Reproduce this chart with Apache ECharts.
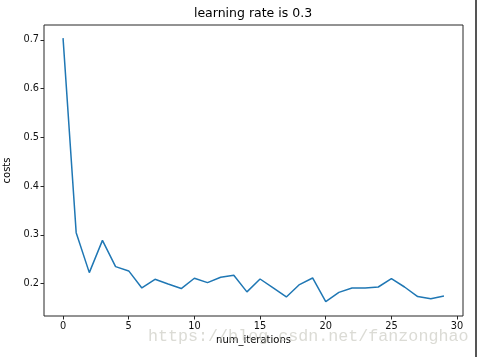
<!DOCTYPE html>
<html>
<head>
<meta charset="utf-8">
<script src="https://cdn.jsdelivr.net/npm/echarts@6/dist/echarts.min.js"></script>
<style>html,body{margin:0;padding:0;background:#fff;}#c{width:479px;height:357px;}</style>
</head>
<body>
<div id="c"></div>
<script>
const titleText = 'learning rate is 0.3';
const xName = 'num_iterations';
const yName = 'costs';
const watermark = 'https://blog.csdn.net/fanzonghao';
const iterations = [0,1,2,3,4,5,6,7,8,9,10,11,12,13,14,15,16,17,18,19,20,21,22,23,24,25,26,27,28,29];
const costs = [0.7035,0.3045,0.2225,0.2887,0.2348,0.226,0.191,0.2088,0.199,0.1898,0.211,0.202,0.213,0.217,0.183,0.2094,0.191,0.1726,0.198,0.2115,0.163,0.182,0.191,0.191,0.193,0.210,0.193,0.1734,0.169,0.1746];
const xTicks = [0,5,10,15,20,25,30];
const yTicks = [0.2,0.3,0.4,0.5,0.6,0.7];

const font = 'DejaVu Sans';
const chart = echarts.init(document.getElementById('c'), null, {renderer:'canvas'});
chart.setOption({
  animation:false,
  backgroundColor:'#fff',
  grid:{left:44,right:16,top:25,bottom:41,show:true,borderColor:'#262626',borderWidth:1,containLabel:false,outerBoundsMode:'none'},
  xAxis:{type:'value',min:-1.45,max:30.45,
    name:xName,nameLocation:'middle',nameGap:18,
    nameTextStyle:{fontFamily:font,fontSize:10,color:'#000'},
    axisLine:{show:false,onZero:false},splitLine:{show:false},
    axisTick:{show:true,inside:false,length:3.5,customValues:xTicks,lineStyle:{color:'#262626',width:1}},
    axisLabel:{customValues:xTicks,margin:5,fontFamily:font,fontSize:9.8,color:'#111'}},
  yAxis:{type:'value',min:0.1335,max:0.7305,
    name:yName,nameLocation:'middle',nameGap:28,nameRotate:90,
    nameTextStyle:{fontFamily:font,fontSize:10,color:'#000'},
    axisLine:{show:false,onZero:false},splitLine:{show:false},
    axisTick:{show:true,inside:false,length:3.5,customValues:yTicks,lineStyle:{color:'#262626',width:1}},
    axisLabel:{customValues:yTicks,margin:5,fontFamily:font,fontSize:9.8,color:'#111',formatter:v=>v.toFixed(1)}},
  series:[{type:'line',data:iterations.map((x,i)=>[x,costs[i]]),showSymbol:false,symbol:'none',
    lineStyle:{color:'#1f77b4',width:1.5},z:3}],
  graphic:[
    {type:'text',x:253,y:7,style:{text:titleText,fontFamily:font,fontSize:12.5,fill:'#000',textAlign:'center',textVerticalAlign:'top'}},
    {type:'text',x:148,y:328,z:1,style:{text:watermark,fontFamily:'Liberation Mono',fontSize:16.7,fill:'rgba(195,195,185,0.6)',textAlign:'left',textVerticalAlign:'top'}},
    {type:'line',shape:{x1:476,y1:0,x2:476,y2:357},style:{stroke:'#555',lineWidth:2}}
  ]
});
</script>
</body>
</html>
